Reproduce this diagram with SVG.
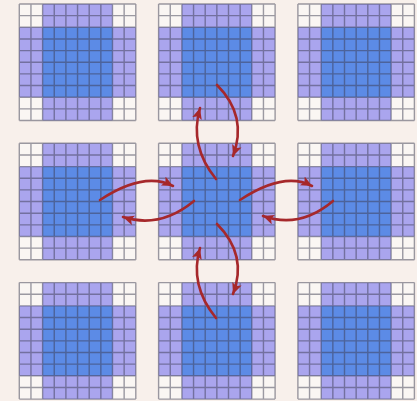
<svg xmlns="http://www.w3.org/2000/svg" xmlns:xlink="http://www.w3.org/1999/xlink" width="417" height="401" viewBox="0 0 417 401">
<style>
.bg{fill:#f8f0eb}
.w{fill:#faf6f3}
.p{fill:#aaa5ee}
.b{fill:#5c8be6}
.grid{fill:none;stroke:#3c3c50;stroke-opacity:0.5;stroke-width:1.4}
.arr{fill:none;stroke:#a6282b;stroke-width:2.6;stroke-linecap:round}
</style>
<defs>
<marker id="ah" markerUnits="userSpaceOnUse" markerWidth="14" markerHeight="12" refX="11" refY="5" orient="auto">
<path d="M0,0 L11,5 L0,10 L2.5,5 z" fill="#a6282b"/>
</marker>
<g id="tile">
<rect class="w" x="0" y="0" width="116.5" height="116.5"/>
<rect class="p" x="23.3" y="0" width="69.9" height="116.5"/>
<rect class="p" x="0" y="23.3" width="116.5" height="69.9"/>
<rect class="b" x="23.3" y="23.3" width="69.9" height="69.9"/>
<path class="grid" d="M0,0V116.5M11.65,0V116.5M23.3,0V116.5M34.95,0V116.5M46.6,0V116.5M58.25,0V116.5M69.9,0V116.5M81.55,0V116.5M93.2,0V116.5M104.85,0V116.5M116.5,0V116.5M0,0H116.5M0,11.65H116.5M0,23.3H116.5M0,34.95H116.5M0,46.6H116.5M0,58.25H116.5M0,69.9H116.5M0,81.55H116.5M0,93.2H116.5M0,104.85H116.5M0,116.5H116.5"/>
</g>
</defs>
<rect class="bg" x="0" y="0" width="417" height="401"/>
<g id="tile-r0c0" transform="translate(19.3,4)"><use xlink:href="#tile" href="#tile"/></g>
<g id="tile-r0c1" transform="translate(158.6,4)"><use xlink:href="#tile" href="#tile"/></g>
<g id="tile-r0c2" transform="translate(297.9,4)"><use xlink:href="#tile" href="#tile"/></g>
<g id="tile-r1c0" transform="translate(19.3,143.3)"><use xlink:href="#tile" href="#tile"/></g>
<g id="tile-r1c1" transform="translate(158.6,143.3)"><use xlink:href="#tile" href="#tile"/></g>
<g id="tile-r1c2" transform="translate(297.9,143.3)"><use xlink:href="#tile" href="#tile"/></g>
<g id="tile-r2c0" transform="translate(19.3,282.6)"><use xlink:href="#tile" href="#tile"/></g>
<g id="tile-r2c1" transform="translate(158.6,282.6)"><use xlink:href="#tile" href="#tile"/></g>
<g id="tile-r2c2" transform="translate(297.9,282.6)"><use xlink:href="#tile" href="#tile"/></g>
<g id="connectors">
<path class="arr" marker-end="url(#ah)" d="M217,85 Q248,116 233,156"/>
<path class="arr" marker-end="url(#ah)" d="M216,179 Q189,146 200,108"/>
<path class="arr" marker-end="url(#ah)" d="M217,224 Q248,255 233,294"/>
<path class="arr" marker-end="url(#ah)" d="M216,318 Q189,285 200,248"/>
<path class="arr" marker-end="url(#ah)" d="M100,200 Q144,171 173,186"/>
<path class="arr" marker-end="url(#ah)" d="M194,201 Q160,229 123,217"/>
<path class="arr" marker-end="url(#ah)" d="M240,200 Q284,171 312,186"/>
<path class="arr" marker-end="url(#ah)" d="M333,201 Q300,229 263,216"/>
</g>
</svg>
